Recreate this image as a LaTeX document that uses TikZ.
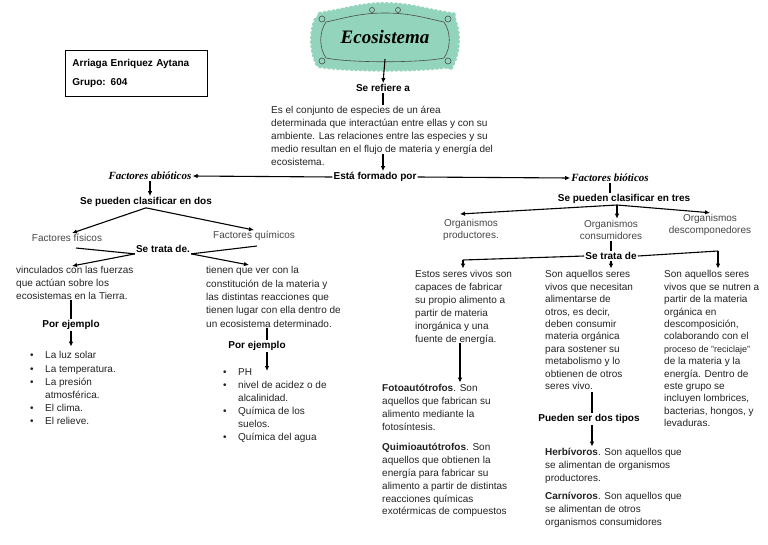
\documentclass[tikz,border=0pt]{standalone}
\usepackage{fontspec}
\setmainfont{Liberation Sans}
\newfontfamily\handfont{Liberation Serif}
\usetikzlibrary{arrows.meta,decorations.pathmorphing}
\definecolor{tealc}{RGB}{146,212,188}
\definecolor{txtc}{RGB}{35,35,35}
\definecolor{lblc}{RGB}{70,70,70}
\newcommand{\mystrut}{\rule{0pt}{9pt}}
\newcommand{\bul}{\makebox[15pt][l]{\textbullet}}
\newcommand{\cnt}{\makebox[15pt][l]{}}
\begin{document}
\begin{tikzpicture}[x=1pt,y=-1pt,
  conn/.style={line width=1.1pt, black},
  arr/.style={conn, -{Latex[length=5pt,width=4.5pt]}},
  bl/.style={font=\bfseries\fontsize{10}{12}\selectfont, inner sep=1pt, text=black},
  lb/.style={font=\fontsize{10}{12.8}\selectfont, text=lblc, inner sep=1pt, align=center},
  blk/.style={anchor=north west, inner sep=0pt, align=left, text=txtc, font=\fontsize{10}{#1}\selectfont},
  blk/.default=12.8,
  hand/.style={font=\handfont\bfseries\itshape\fontsize{11}{13}\selectfont, inner sep=1pt},
  ttl/.style={font=\handfont\bfseries\itshape\fontsize{19}{22}\selectfont, minimum width=140pt, minimum height=44pt, inner sep=0pt},
  frm/.style={black!70, line width=0.6pt}
]
\useasboundingbox[fill=white] (0,0) rectangle (768,544);

% title frame: teal blob
\fill[tealc, decorate, decoration={bumps, segment length=9pt, amplitude=2pt}]
  (318,14) .. controls (345,10) and (360,4) .. (385,4) .. controls (410,4) and (425,10) .. (452,14)
  .. controls (460,30) and (460,50) .. (452,66)
  .. controls (420,71) and (350,71) .. (318,66)
  .. controls (310,50) and (310,30) .. cycle;
% decorative outline
\draw[frm]
  (326,22) .. controls (345,18) and (360,13) .. (385,13) .. controls (410,13) and (425,18) .. (444,22)
  .. controls (451,32) and (451,48) .. (444,58)
  .. controls (420,63) and (350,63) .. (326,58)
  .. controls (319,48) and (319,32) .. cycle;
\draw[frm] (322,19) circle (3pt) (448,19) circle (3pt) (322,61) circle (3pt) (448,61) circle (3pt)
  (372,10) circle (2.5pt) (398,10) circle (2.5pt);
\node[ttl] (title) at (385,37) {Ecosistema};

% name box
\node[draw, line width=0.8pt, anchor=north west, minimum width=142pt, minimum height=46pt,
      inner xsep=7pt, text width=128pt, align=left, font=\bfseries\fontsize{10}{19}\selectfont] (name) at (65,50)
  {Arriaga Enriquez Aytana\\Grupo: 604};

\node[bl] (refiere) at (383,88) {Se refiere a};
\node[blk] (para) at (271,104.6) {\mystrut Es el conjunto de especies de un área\\determinada que interactúan entre ellas y con su\\ambiente. Las relaciones entre las especies y su\\medio resultan en el flujo de materia y energía del\\ecosistema.};
\node[bl] (formado) at (375,177) {Está formado por};
\node[hand] (abio) at (150,176) {Factores abióticos};
\node[hand] (bio) at (610,178) {Factores bióticos};

% left branch
\node[bl] (dos) at (146,202) {Se pueden clasificar en dos};
\node[lb] (fisicos) at (67,238) {Factores físicos};
\node[lb] (quimicos) at (254,236) {Factores químicos};
\node[bl] (trata1) at (163,249) {Se trata de.};
\node[blk={13}] (vinc) at (16,264.6) {\mystrut vinculados con las fuerzas\\que actúan sobre los\\ecosistemas en la Tierra.};
\node[blk={13.3}] (tienen) at (206,264.6) {\mystrut tienen que ver con la\\constitución de la materia y\\las distintas reacciones que\\tienen lugar con ella dentro de\\un ecosistema determinado.};
\node[bl] (porej1) at (71,325) {Por ejemplo};
\node[bl] (porej2) at (257,346) {Por ejemplo};
\node[blk={13.2}] (list1) at (30,349.6) {\mystrut\bul La luz solar\\\bul La temperatura.\\\bul La presión\\\cnt atmosférica.\\\bul El clima.\\\bul El relieve.};
\node[blk={12.9}] (list2) at (223,366.6) {\mystrut\bul PH\\\bul nivel de acidez o de\\\cnt alcalinidad.\\\bul Química de los\\\cnt suelos.\\\bul Química del agua};

% right branch
\node[bl] (tres) at (624,199) {Se pueden clasificar en tres};
\node[lb] (prod) at (471,230) {Organismos\\productores.};
\node[lb] (cons) at (611,230) {Organismos\\consumidores};
\node[lb] (desc) at (710,225) {Organismos\\descomponedores};
\node[bl] (trata2) at (611,256) {Se trata de};
\node[blk={13}] (col1) at (415,268.6) {\mystrut Estos seres vivos son\\capaces de fabricar\\su propio alimento a\\partir de materia\\inorgánica y una\\fuente de energía.};
\node[blk={12.4}] (col2) at (545,268.6) {\mystrut Son aquellos seres\\vivos que necesitan\\alimentarse de\\otros, es decir,\\deben consumir\\materia orgánica\\para sostener su\\metabolismo y lo\\obtienen de otros\\seres vivo.};
\node[blk={12.4}] (col3) at (664,268.6) {\mystrut Son aquellos seres\\vivos que se nutren a\\partir de la materia\\orgánica en\\descomposición,\\colaborando con el\\{\fontsize{9}{12.4}\selectfont proceso de "reciclaje"}\\de la materia y la\\energía. Dentro de\\este grupo se\\incluyen lombrices,\\bacterias, hongos, y\\levaduras.};
\node[blk] (foto) at (382,382.6) {\mystrut\textbf{Fotoautótrofos}. Son\\aquellos que fabrican su\\alimento mediante la\\fotosíntesis.};
\node[blk] (quimio) at (382,441.6) {\mystrut\textbf{Quimioautótrofos}. Son\\aquellos que obtienen la\\energía para fabricar su\\alimento a partir de distintas\\reacciones químicas\\exotérmicas de compuestos};
\node[bl] (dostipos) at (589,419) {Pueden ser dos tipos};
\node[blk={13}] (herb) at (545,446.6) {\mystrut\textbf{Herbívoros}. Son aquellos que\\se alimentan de organismos\\productores.};
\node[blk={13}] (carn) at (545,490.6) {\mystrut\textbf{Carnívoros}. Son aquellos que\\se alimentan de otros\\organismos consumidores};

% coordinates for free ends
\coordinate (p2) at (383,154);
\coordinate (f1) at (76,248);
\coordinate (q1) at (257,246);
\coordinate (va) at (72,266);
\coordinate (ta) at (249,265);
\coordinate (t2a) at (267,328);
\coordinate (t2b) at (267,371);
\coordinate (tr) at (617,205);
\coordinate (pa) at (460,214);
\coordinate (c1) at (463,260);
\coordinate (c3) at (718,251);
\coordinate (f0) at (460,343);
\coordinate (d0) at (592,392);

% connectors
\draw[arr] (title.south) -- (refiere.north);
\draw[conn] (refiere.south) -- (refiere.south |- para.north);
\draw[arr] (p2) -- (p2 |- formado.north);
\draw[arr] (formado.west) -- (abio.east);
\draw[arr] (formado.east) -- (bio.west);
\draw[arr] (abio.south) -- (abio.south |- dos.north);
\draw[arr] (dos.south) -- ([xshift=5pt]fisicos.north);
\draw[arr] (dos.south) -- (quimicos.north);
\draw[conn] (f1) -- (trata1.south west);
\draw[conn] (q1) -- (trata1.south east);
\draw[arr] (trata1.south west) -- (va);
\draw[arr] (trata1.south east) -- (ta);
\draw[conn] (porej1 |- vinc.south) -- (porej1.north);
\draw[arr] (porej1.south) -- ([yshift=3pt]porej1.south |- list1.north);
\draw[conn] (t2a) -- (t2a |- porej2.north);
\draw[arr] (t2a |- porej2.south) -- (t2b);

\draw[conn] (bio.south) -- (bio.south |- tres.north);
\draw[arr] (tr) -- (pa);
\draw[arr] (tr) -- (tr |- cons.north);
\draw[arr] (tr) -- (desc.north);
\draw[conn] (cons.south) -- (trata2.north);
\draw[conn] (trata2.west) -- (c1);
\draw[arr] (c1) -- (c1 |- col1.north);
\draw[arr] (trata2.south) -- (trata2.south |- col2.north);
\draw[conn] (trata2.east) -- (c3);
\draw[arr] (c3) -- (c3 |- col3.north);
\draw[arr] (f0) -- (f0 |- foto.north);
\draw[conn] (d0) -- (d0 |- dostipos.north);
\draw[arr] (d0 |- dostipos.south) -- (d0 |- herb.north);
\end{tikzpicture}
\end{document}
